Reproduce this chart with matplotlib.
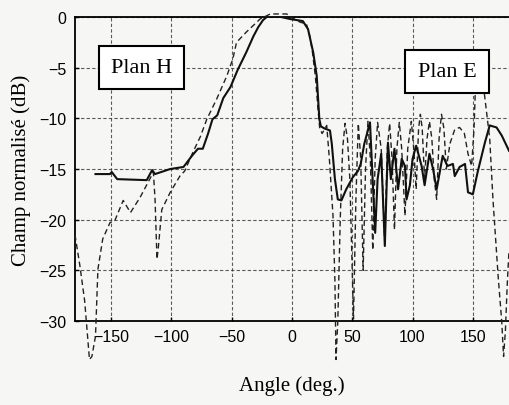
import matplotlib.pyplot as plt

# Measured pattern (solid)
meas_angle = [-163, -151, -149.5, -145, -120.5, -116, -113.6, -101, -90, -83, -78, -74,
              -69.6, -66, -62, -57, -51, -45, -38, -32, -28, -24, -20, -12.7, -1.6, 9,
              13.3, 17.6, 20.5, 22.7, 24, 27, 31.5, 33, 35.6, 38, 41, 45, 50.5, 54.7,
              57, 60, 64.7, 67, 69, 71, 74, 77, 79.6, 82, 85, 88, 91, 93.7, 95, 97.8,
              100, 103, 107.5, 110, 114, 117, 120, 125, 129, 133.5, 135, 139, 143.5,
              146, 150, 154, 160, 164, 169.7, 174, 178, 180]
meas_db = [-15.5, -15.5, -15.3, -16.0, -16.1, -15.1, -15.5, -15.0, -14.8, -13.7, -13.0, -13.0,
           -11.5, -10.1, -9.7, -8.0, -6.9, -5.2, -3.5, -1.9, -1.0, -0.3, 0.1, 0.1, -0.2, -0.4,
           -1.2, -3.5, -5.8, -10.1, -10.8, -11.0, -11.2, -12.5, -16.0, -18.0, -18.1, -17.0, -15.8, -15.2,
           -14.5, -12.5, -10.4, -16.3, -21.3, -16.0, -13.5, -22.6, -12.4, -16.0, -13.0, -17.0, -14.0, -14.7, -18.0, -16.6,
           -14.0, -12.7, -14.7, -16.6, -13.5, -15.0, -17.0, -13.7, -14.7, -14.5, -15.7, -14.8, -14.5,
           -17.3, -17.5, -15.3, -12.4, -10.7, -10.9, -11.7, -12.7, -13.2]

# Simulated pattern (dashed)
sim_angle = [-180, -176, -172, -168, -166, -163, -161, -157, -151, -147, -140, -134, -126,
             -118, -115, -113.6, -112, -111, -108, -101, -93, -89, -82, -76, -70.7, -62.5,
             -54, -49, -46, -38, -30, -26.5, -18, -4.4, 3, 6.6, 12, 15, 17, 19.5, 21.5, 23,
             25, 28.8, 31, 34, 35.6, 36.5, 38, 40, 42, 44, 46, 48, 51, 53, 55, 57, 59, 61,
             63, 65, 67, 69, 71, 74, 77, 79, 81, 83, 85, 87, 89, 91, 93.7, 96, 99, 101, 103,
             105, 106.5, 108, 110, 112, 114, 116, 118, 120, 122, 124, 126, 128, 131, 135,
             139, 143, 146, 149, 151, 152, 154, 157, 160, 164, 166.7, 171, 174, 175.5, 177,
             178.5, 180]
sim_db = [-21.5, -24.5, -28.0, -33.8, -33.5, -31.5, -24.9, -21.9, -20.3, -20.1, -18.1, -19.3, -17.8,
          -16.0, -15.3, -18.0, -23.9, -22.9, -19.0, -17.3, -15.7, -15.2, -13.3, -11.8, -10.1, -8.1,
          -5.8, -4.1, -2.5, -1.5, -0.6, -0.2, 0.3, 0.3, -0.3, -0.5, -0.7, -2.0, -3.5, -6.0, -9.0, -11.0,
          -11.5, -10.7, -14.0, -19.6, -26.0, -33.8, -30.0, -20.0, -13.0, -10.5, -12.0, -16.0, -29.8, -18.0, -10.5, -14.0, -25.0, -15.0,
          -10.3, -14.0, -23.0, -14.0, -10.4, -13.0, -22.4, -13.0, -10.5, -14.0, -21.0, -13.0, -10.4, -13.0, -19.6, -13.0, -10.3, -13.0, -17.0,
          -11.0, -9.6, -11.0, -16.0, -12.0, -10.3, -12.0, -16.0, -18.0, -12.0, -9.6, -11.0, -15.0, -12.5, -11.1,
          -10.9, -11.5, -13.5, -14.7, -11.0, -7.5, -5.0, -5.0, -8.0, -12.0, -18.0, -25.6, -30.1, -33.5, -31.0,
          -26.5, -23.0]

xticks = [-150, -100, -50, 0, 50, 100, 150]
yticks = [0, -5, -10, -15, -20, -25, -30]

fig = plt.figure(figsize=(5.09, 4.06), dpi=100, facecolor='#f6f6f4')
ax = fig.add_axes([75 / 509, 84 / 406, 434 / 509, 304 / 406])
ax.set_facecolor('#f6f6f4')

ax.plot(sim_angle, sim_db, color='#222222', lw=1.0, linestyle=(0, (4, 2.5)), clip_on=False, zorder=3)
ax.plot(meas_angle, meas_db, color='#111111', lw=1.5, zorder=4)

ax.set_xlim(-180, 180)
ax.set_ylim(-30, 0)
ax.set_xticks(xticks)
ax.set_yticks(yticks)
ax.grid(True, color='#333333', lw=0.8, linestyle=(0, (3, 2)), alpha=0.8)
ax.set_axisbelow(True)
for side in ['left', 'top', 'bottom']:
    ax.spines[side].set_linewidth(1.3)
ax.spines['right'].set_visible(False)
ax.tick_params(direction='in', length=3, width=1, labelsize=11.5, pad=6)
for lab in ax.get_xticklabels() + ax.get_yticklabels():
    lab.set_fontfamily('Liberation Sans')

ax.set_xlabel('Angle (deg.)', fontfamily='Liberation Serif', fontsize=15, labelpad=22)
ax.set_ylabel('Champ normalisé (dB)', fontfamily='Liberation Serif', fontsize=15, labelpad=6)

box = dict(boxstyle='square,pad=0.55', facecolor='white', edgecolor='black', lw=1.5)
ax.text(-125, -5.0, 'Plan H', fontfamily='Liberation Serif', fontsize=16,
        ha='center', va='center', bbox=box, zorder=6)
ax.text(128.5, -5.4, 'Plan E', fontfamily='Liberation Serif', fontsize=16,
        ha='center', va='center', bbox=box, zorder=6)

fig.savefig('out.png', dpi=100, facecolor=fig.get_facecolor())
